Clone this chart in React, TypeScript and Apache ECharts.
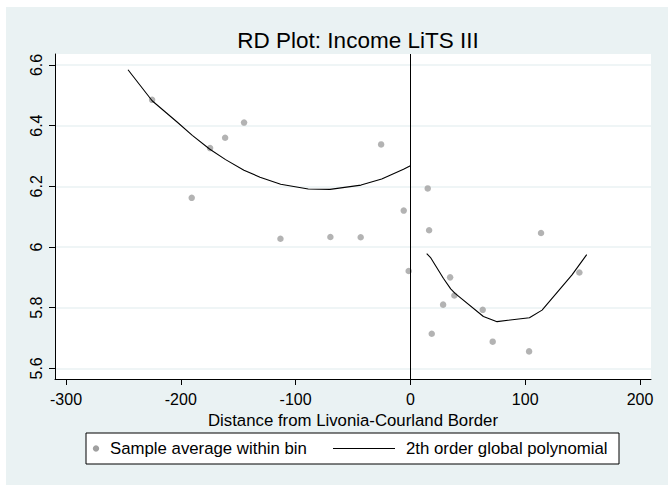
import React, { useEffect, useRef } from "react";
import * as echarts from "echarts";

// Binned sample averages
const binX = [-225, -190.5, -174.5, -161.4, -144.9, -113.2, -69.7, -43.3, -25.5, -5.8, -1.5, 15.1, 16.3, 18.6, 28.5, 34.6, 38.3, 63, 71.7, 103.4, 113.8, 147.2];
const binY = [6.485, 6.162, 6.326, 6.36, 6.41, 6.027, 6.033, 6.032, 6.338, 6.12, 5.921, 6.193, 6.055, 5.714, 5.81, 5.9, 5.84, 5.793, 5.688, 5.656, 6.046, 5.916];

// Polynomial fit, left of the border
const leftFitX = [-246, -225, -203, -190, -175, -161, -145, -131, -113, -89, -70, -43, -25, -6, 0];
const leftFitY = [6.584, 6.482, 6.411, 6.368, 6.323, 6.288, 6.253, 6.23, 6.207, 6.191, 6.19, 6.204, 6.224, 6.256, 6.268];

// Polynomial fit, right of the border
const rightFitX = [14.2, 17.4, 28.7, 35.1, 38.9, 63.6, 75.5, 103.7, 114.7, 140.8, 153.6];
const rightFitY = [5.978, 5.966, 5.897, 5.862, 5.847, 5.771, 5.754, 5.767, 5.792, 5.908, 5.975];

const xTicks = [-300, -200, -100, 0, 100, 200];
const yTicks = [5.6, 5.8, 6.0, 6.2, 6.4, 6.6];

const titleText = "RD Plot: Income LiTS III";
const xName = "Distance from Livonia-Courland Border";
const legendNames = ["Sample average within bin", "2th order global polynomial"];

const FONT = "Arial, 'Liberation Sans', sans-serif";
const BG = "#eaf2f3";
const DOT = "#a0a0a0";

export default function App() {
  const ref = useRef<HTMLDivElement>(null);
  useEffect(() => {
    if (!ref.current) return;
    const chart = echarts.init(ref.current, null, { renderer: "svg" });
    const zip = (xs: number[], ys: number[]) => xs.map((x, i) => [x, ys[i]]);
    const option = {
      animation: false,
      backgroundColor: "#ffffff",
      textStyle: { fontFamily: FONT },
      title: {
        text: titleText,
        left: 353,
        top: 24,
        textAlign: "center",
        textStyle: { fontFamily: FONT, fontSize: 22.5, fontWeight: "normal", color: "#000" },
      },
      grid: {
        left: 55,
        right: 20,
        top: 54,
        bottom: 106,
        show: true,
        backgroundColor: "#ffffff",
        borderWidth: 0,
        containLabel: false,
      },
      xAxis: {
        type: "value",
        min: -309.6,
        max: 209.6,
        name: xName,
        nameLocation: "middle",
        nameGap: 26,
        nameTextStyle: { fontFamily: FONT, fontSize: 16.8, color: "#000" },
        axisLine: { show: true, onZero: false, lineStyle: { color: "#000", width: 1 } },
        axisTick: { show: true, length: 6, customValues: xTicks, lineStyle: { color: "#000" } },
        axisLabel: { customValues: xTicks, margin: 12, fontSize: 16, color: "#000", fontFamily: FONT },
        splitLine: { show: false },
      },
      yAxis: {
        type: "value",
        min: 5.565,
        max: 6.636,
        axisLine: { show: true, onZero: false, lineStyle: { color: "#000", width: 1 } },
        axisTick: { show: true, length: 6, customValues: yTicks, lineStyle: { color: "#000" } },
        axisLabel: {
          customValues: yTicks,
          rotate: 90,
          margin: 11,
          fontSize: 16,
          color: "#000",
          fontFamily: FONT,
          formatter: (v: number) => (Math.abs(v - 6) < 1e-9 ? "6" : String(Math.round(v * 10) / 10)),
        },
        splitLine: { show: true, lineStyle: { color: BG, width: 1.5 } },
      },
      graphic: [
        {
          type: "rect",
          z: -10,
          zlevel: 0,
          silent: true,
          shape: { x: 6, y: 7, width: 662, height: 478 },
          style: { fill: BG },
        },
        {
          type: "group",
          silent: true,
          children: [
            {
              type: "rect",
              shape: { x: 86, y: 433, width: 533, height: 31 },
              style: { fill: "#ffffff", stroke: "#000", lineWidth: 1 },
            },
            {
              type: "circle",
              shape: { cx: 96, cy: 448.5, r: 3.2 },
              style: { fill: DOT },
            },
            {
              type: "text",
              x: 110,
              y: 448.5,
              style: { text: legendNames[0], fontFamily: FONT, fontSize: 16.8, fill: "#000", verticalAlign: "middle", align: "left" },
            },
            {
              type: "line",
              shape: { x1: 333, y1: 448.5, x2: 395, y2: 448.5 },
              style: { stroke: "#000", lineWidth: 1 },
            },
            {
              type: "text",
              x: 406,
              y: 448.5,
              style: { text: legendNames[1], fontFamily: FONT, fontSize: 16.8, fill: "#000", verticalAlign: "middle", align: "left" },
            },
          ],
        },
      ],
      series: [
        {
          name: legendNames[0],
          type: "scatter",
          data: zip(binX, binY),
          symbol: "circle",
          symbolSize: 6.5,
          itemStyle: { color: DOT },
          z: 3,
          markLine: {
            silent: true,
            symbol: "none",
            label: { show: false },
            lineStyle: { color: "#000", width: 1, type: "solid" },
            data: [{ xAxis: 0 }],
          },
        },
        {
          name: legendNames[1],
          type: "line",
          data: zip(leftFitX, leftFitY),
          showSymbol: false,
          lineStyle: { color: "#000", width: 1.1 },
          z: 4,
        },
        {
          name: legendNames[1] + " (right)",
          type: "line",
          data: zip(rightFitX, rightFitY),
          showSymbol: false,
          lineStyle: { color: "#000", width: 1.1 },
          z: 4,
        },
      ],
    };
    chart.setOption(option as any);
    return () => chart.dispose();
  }, []);
  return (
    <div
      ref={ref}
      style={{ position: "fixed", left: 0, top: 0, width: 671, height: 485 }}
    />
  );
}
